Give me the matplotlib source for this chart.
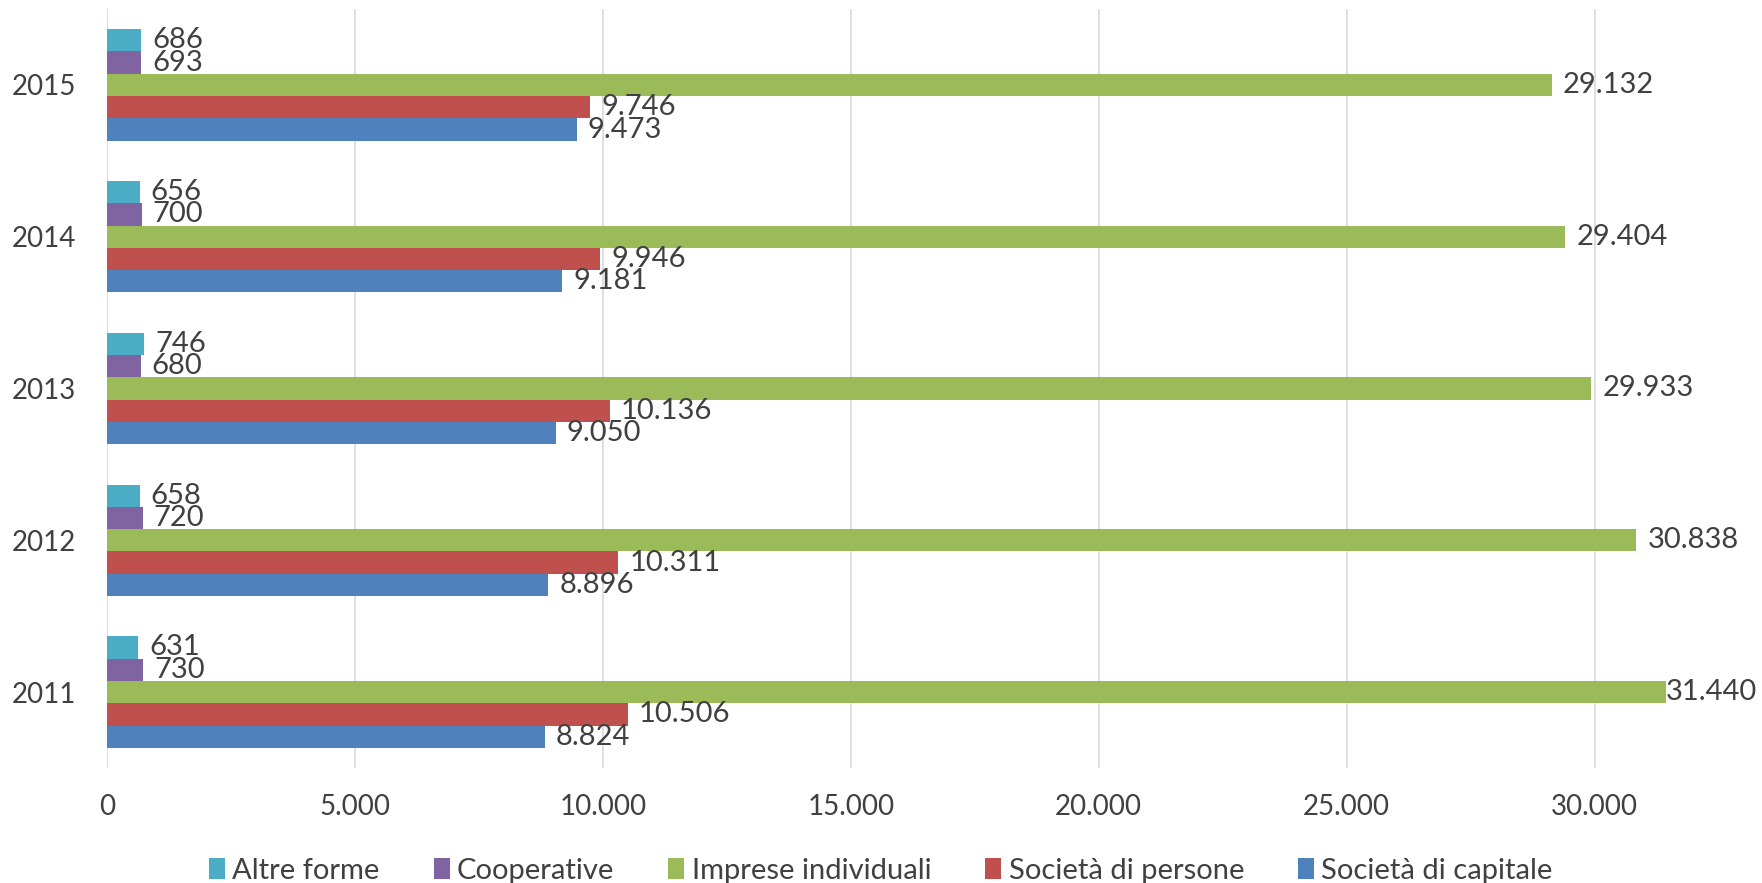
import matplotlib
matplotlib.use("Agg")
import matplotlib.pyplot as plt
from matplotlib.patches import Patch
import numpy as np

plt.rcParams['font.family'] = ['Lato', 'DejaVu Sans']

years = ["2011", "2012", "2013", "2014", "2015"]
# series in plotting order (bottom to top inside each group)
series_names = ["Società di capitale", "Società di persone", "Imprese individuali",
                "Cooperative", "Altre forme"]
capitale = [8824, 8896, 9050, 9181, 9473]
persone = [10506, 10311, 10136, 9946, 9746]
individuali = [31440, 30838, 29933, 29404, 29132]
cooperative = [730, 720, 680, 700, 693]
altre = [631, 658, 746, 656, 686]
values = [capitale, persone, individuali, cooperative, altre]
colors = ["#4F81BD", "#C0504D", "#9BBB59", "#8064A2", "#4BACC6"]

text_col = "#404040"
xmax = 31460


def fmt(v):
    return f"{v:,}".replace(",", ".")


fig = plt.figure(figsize=(17.62, 8.83), dpi=100)
ax = fig.add_axes([107 / 1762, 1 - 768 / 883, (1667 - 107) / 1762, (768 - 9) / 883])

y = np.arange(len(years))
h = 0.147
for i, (name, vals, c) in enumerate(zip(series_names, values, colors)):
    pos = y + (i - 2) * h
    ax.barh(pos, vals, height=h, color=c, zorder=2)
    for p, v in zip(pos, vals):
        # the label of a bar reaching the plot edge is pulled back onto the bar end
        off = 0 if v > 0.995 * xmax else 8
        ax.annotate(fmt(v), (min(v, xmax), p), xytext=(off, 0), textcoords="offset points",
                    ha="left", va="center", fontsize=21, color=text_col,
                    annotation_clip=False, zorder=3)

ax.set_xlim(0, xmax)
ax.set_ylim(-0.5, len(years) - 0.5)
ax.set_yticks(y)
ax.set_yticklabels(years)
ticks = np.arange(0, 30001, 5000)
ax.set_xticks(ticks)
ax.set_xticklabels([fmt(t) for t in ticks])
ax.tick_params(axis="x", length=0, pad=19, labelsize=20, labelcolor=text_col)
ax.tick_params(axis="y", length=0, pad=22, labelsize=20, labelcolor=text_col)
ax.grid(axis="x", color="#D9D9D9", linewidth=1.2, zorder=0)
ax.set_axisbelow(True)
for s in ax.spines.values():
    s.set_visible(False)

handles = [Patch(facecolor=c, label=n) for n, c in zip(series_names, colors)][::-1]
fig.legend(handles=handles, loc="center", bbox_to_anchor=(0.5, 0.014), ncol=5,
           frameon=False, fontsize=21, handlelength=0.55, handleheight=0.7,
           handletextpad=0.25, columnspacing=1.85, labelcolor=text_col)

fig.savefig("out.png", dpi=100)
